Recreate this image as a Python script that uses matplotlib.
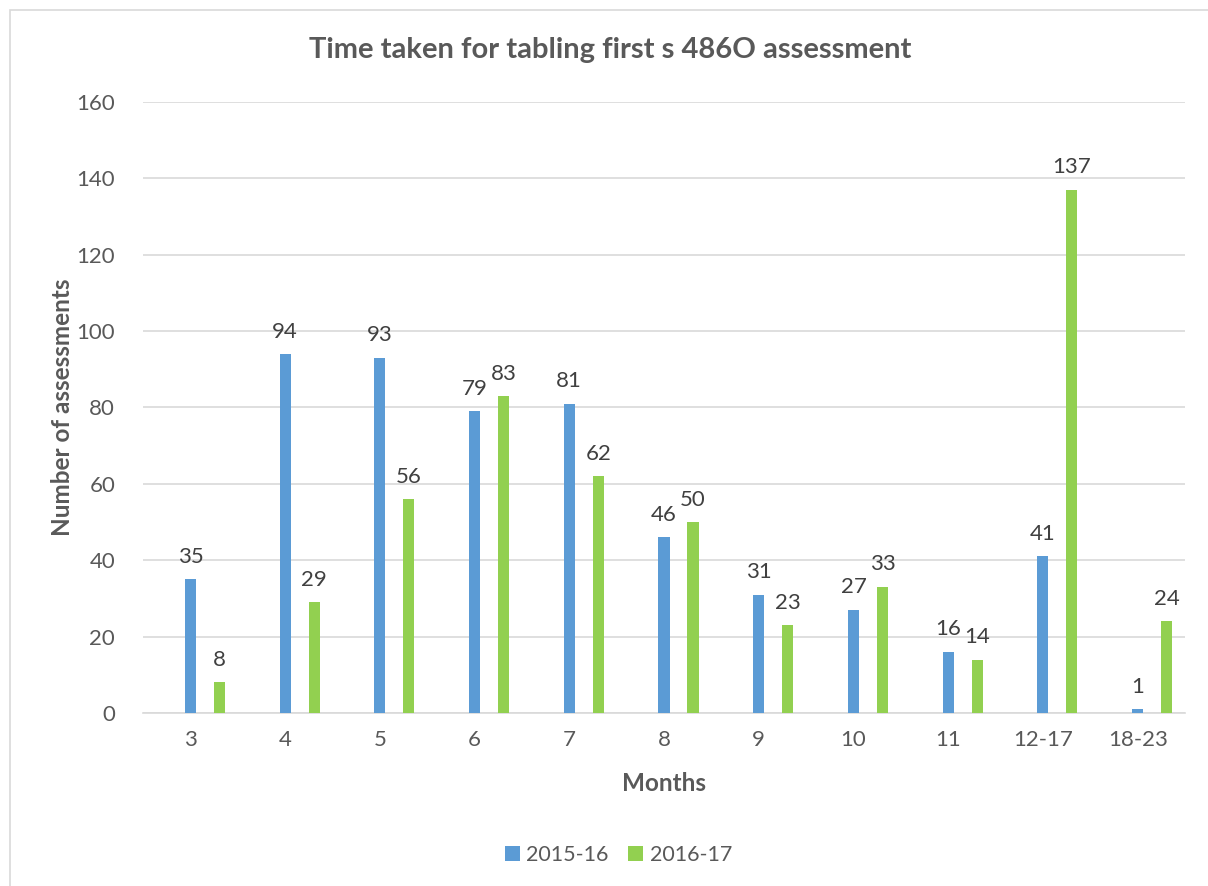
import matplotlib
matplotlib.use("Agg")
import matplotlib.pyplot as plt
import numpy as np
from matplotlib.patches import Rectangle

# Données
mois = ["3", "4", "5", "6", "7", "8", "9", "10", "11", "12-17", "18-23"]
serie_2015 = [35, 94, 93, 79, 81, 46, 31, 27, 16, 41, 1]
serie_2016 = [8, 29, 56, 83, 62, 50, 23, 33, 14, 137, 24]
noms_series = ["2015-16", "2016-17"]

gris_texte = "#595959"
plt.rcParams['font.family'] = ['Lato', 'DejaVu Sans']

fig = plt.figure(figsize=(12.08, 8.86), dpi=100)
ax = fig.add_axes([0.1184, 0.1953, 0.8626, 0.6896])

# cadre du graphique
fig.patches.append(Rectangle((10 / 1208, -0.1), 1.2, 1 - 10 / 886 + 0.1,
                             transform=fig.transFigure, fill=False,
                             edgecolor="#d9d9d9", linewidth=1.2))

x = np.arange(len(mois))
largeur = 0.117
decalage = 0.306

b1 = ax.bar(x, serie_2015, largeur, color="#5B9BD5", label=noms_series[0], zorder=3)
b2 = ax.bar(x + decalage, serie_2016, largeur, color="#92D050", label=noms_series[1], zorder=3)

for barres in (b1, b2):
    for b in barres:
        h = b.get_height()
        ax.annotate(str(int(h)), (b.get_x() + b.get_width() / 2, h),
                    xytext=(0, 9), textcoords="offset points",
                    ha="center", va="bottom", fontsize=16, color="#404040")

ax.set_xlim(-0.5, 10.5)
ax.set_ylim(0, 160)
ax.set_yticks(range(0, 161, 20))
ax.set_xticks(x)
ax.set_xticklabels(mois)
ax.tick_params(axis="both", length=0, labelsize=16, labelcolor=gris_texte)
ax.tick_params(axis="x", pad=12)
ax.tick_params(axis="y", pad=20)
ax.grid(axis="y", color="#d9d9d9", linewidth=1.2, zorder=0)
for s in ["top", "right", "left"]:
    ax.spines[s].set_visible(False)
ax.spines["bottom"].set_color("#d9d9d9")
ax.spines["bottom"].set_linewidth(1.2)

ax.set_xlabel("Months", fontsize=17.5, fontweight="bold", color=gris_texte, labelpad=16)
ax.set_ylabel("Number of assessments", fontsize=17.5, fontweight="bold", color=gris_texte, labelpad=2)

fig.text(0.505, 1 - 50 / 886, "Time taken for tabling first s 486O assessment",
         ha="center", va="center", fontsize=21, fontweight="bold", color=gris_texte)

fig.legend(loc="center", bbox_to_anchor=(0.512, 1 - 855 / 886), ncol=2, frameon=False,
           fontsize=15.5, labelcolor=gris_texte, handlelength=0.7, handleheight=0.7,
           handletextpad=0.3, columnspacing=0.9)

fig.savefig("out.png", dpi=100)
